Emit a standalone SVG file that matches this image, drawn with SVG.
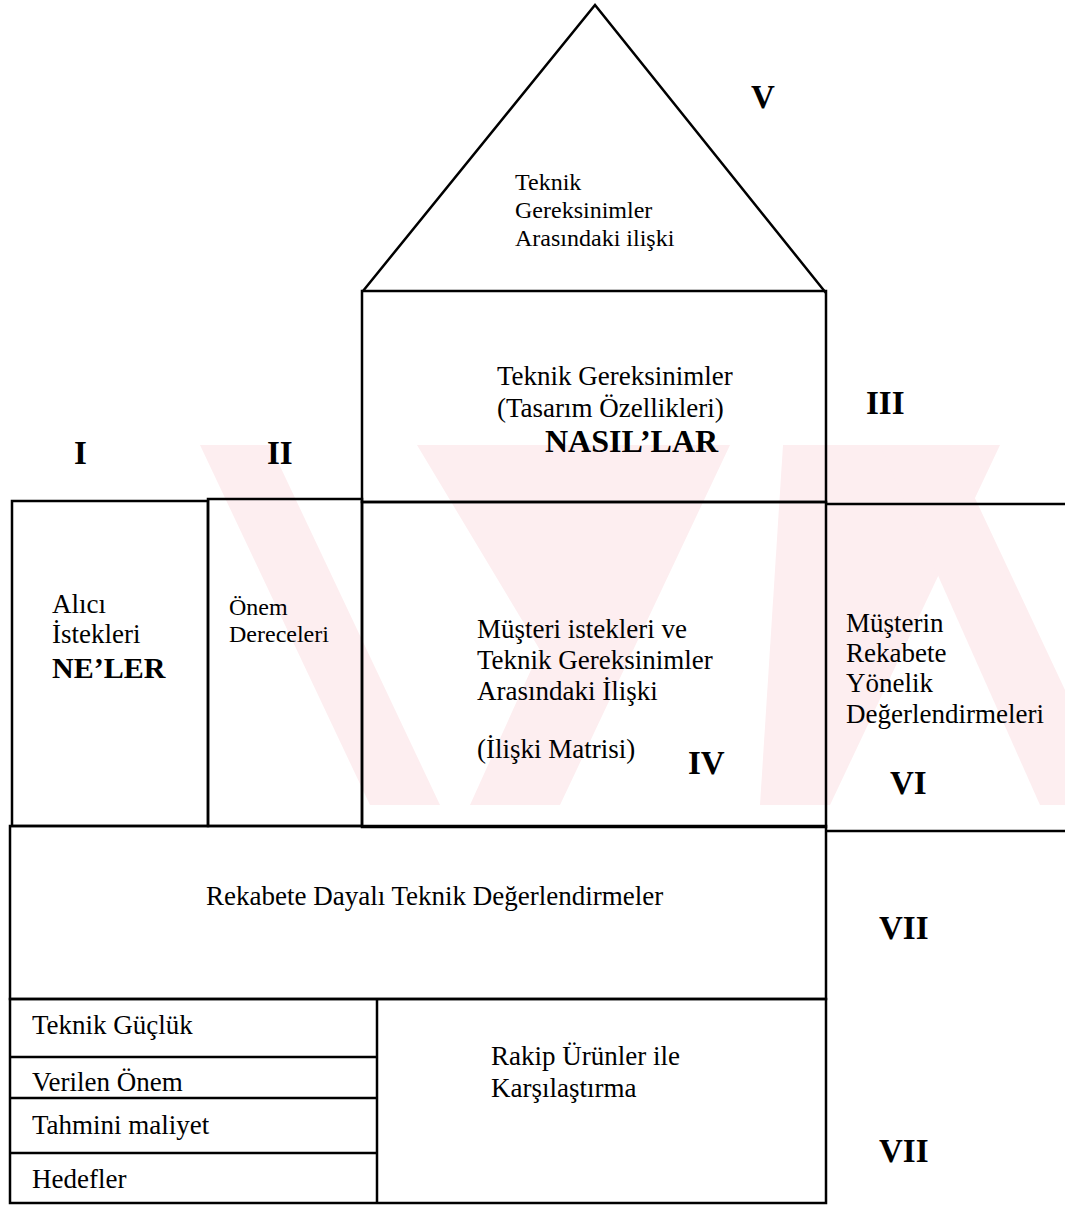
<svg xmlns="http://www.w3.org/2000/svg" width="1065" height="1214" viewBox="0 0 1065 1214">
<style>
.ln{fill:none;stroke:#000;stroke-width:2.5;stroke-linejoin:miter}
.t{font-family:"Liberation Serif","Times New Roman",serif;font-size:27px;fill:#000}
.s{font-size:24px}
.xs{font-size:24px}
.b{font-family:"Liberation Serif","Times New Roman",serif;font-weight:bold;font-size:33px;fill:#000}
.b2{font-size:32px}
.b3{font-size:30px}
.wm{fill:#fdeef0}
</style>
<rect x="0" y="0" width="1065" height="1214" fill="#fff"/>
<g id="watermark">
<polygon class="wm" points="200,445 270,445 440,805 370,805"/>
<polygon class="wm" points="417,445 730,445 560,805 470,805 540,650"/>
<polygon class="wm" points="783,445 1000,445 830,805 760,805"/>
<polygon class="wm" points="880,445 950,445 1065,690 1065,805 1040,805"/>
</g>
<g id="roof">
<polyline class="ln" points="363,291 595,5 826,293"/>
<text class="t s" x="515" y="190">Teknik</text>
<text class="t s" x="515" y="218">Gereksinimler</text>
<text class="t s" x="515" y="246">Arasındaki ilişki</text>
</g>
<g id="box-III">
<rect class="ln" x="362" y="291" width="464" height="211"/>
<text class="t" x="497" y="385">Teknik Gereksinimler</text>
<text class="t" x="497" y="417">(Tasarım Özellikleri)</text>
<text class="b b2" x="545" y="452">NASIL’LAR</text>
</g>
<g id="box-I">
<rect class="ln" x="12" y="501" width="196" height="325"/>
<text class="t" x="52" y="613">Alıcı</text>
<text class="t" x="52" y="643">İstekleri</text>
<text class="b b3" x="52" y="678">NE’LER</text>
</g>
<g id="box-II">
<rect class="ln" x="208" y="499" width="154" height="327"/>
<text class="t xs" x="229" y="615">Önem</text>
<text class="t xs" x="229" y="642">Dereceleri</text>
</g>
<g id="box-IV">
<rect class="ln" x="362" y="502" width="464" height="325"/>
<text class="t" x="477" y="638">Müşteri istekleri ve</text>
<text class="t" x="477" y="669">Teknik Gereksinimler</text>
<text class="t" x="477" y="700">Arasındaki İlişki</text>
<text class="t" x="477" y="758">(İlişki Matrisi)</text>
</g>
<g id="box-VI">
<polyline class="ln" points="826,504 1065,504"/>
<polyline class="ln" points="826,831 1065,831"/>
<text class="t" x="846" y="632">Müşterin</text>
<text class="t" x="846" y="662">Rekabete</text>
<text class="t" x="846" y="692">Yönelik</text>
<text class="t" x="846" y="723">Değerlendirmeleri</text>
</g>
<g id="box-VII">
<rect class="ln" x="10" y="826" width="816" height="173"/>
<text class="t" x="206" y="905">Rekabete Dayalı Teknik Değerlendirmeler</text>
</g>
<g id="bottom">
<rect class="ln" x="10" y="999" width="816" height="204"/>
<line class="ln" x1="377" y1="999" x2="377" y2="1203"/>
<line class="ln" x1="10" y1="1057" x2="377" y2="1057"/>
<line class="ln" x1="10" y1="1098" x2="377" y2="1098"/>
<line class="ln" x1="10" y1="1153" x2="377" y2="1153"/>
<text class="t" x="32" y="1034">Teknik Güçlük</text>
<text class="t" x="32" y="1091">Verilen Önem</text>
<text class="t" x="32" y="1134">Tahmini maliyet</text>
<text class="t" x="32" y="1188">Hedefler</text>
<text class="t" x="491" y="1065">Rakip Ürünler ile</text>
<text class="t" x="491" y="1097">Karşılaştırma</text>
</g>
<g id="labels">
<text class="b" x="751" y="108">V</text>
<text class="b" x="866" y="414">III</text>
<text class="b" x="74" y="464">I</text>
<text class="b" x="267" y="464">II</text>
<text class="b" x="688" y="774">IV</text>
<text class="b" x="890" y="794">VI</text>
<text class="b" x="879" y="939">VII</text>
<text class="b" x="879" y="1162">VII</text>
</g>
</svg>
